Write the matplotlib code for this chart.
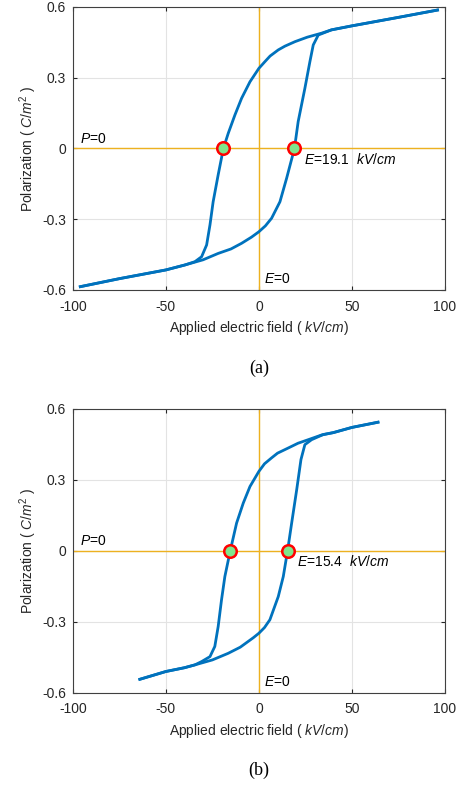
import numpy as np
import matplotlib
matplotlib.use("Agg")
import matplotlib.pyplot as plt

plt.rcParams['font.family'] = ['Liberation Sans', 'DejaVu Sans']
plt.rcParams['mathtext.fontset'] = 'custom'
plt.rcParams['mathtext.rm'] = 'Liberation Sans'
plt.rcParams['mathtext.it'] = 'Liberation Sans:italic'
plt.rcParams['axes.unicode_minus'] = False

# (a) descending-field branch (upper) and ascending-field branch (lower)
a_up_E = [96, 75, 50, 39, 33.7, 26, 19.4, 14, 10.4, 6, 3.2, 0, -4.8, -9.3, -12.9, -16.5, -19.1,
          -21.9, -24.6, -26.3, -28.1, -30.8, -34.4, -39.8, -50, -75, -96]
a_up_P = [0.587, 0.556, 0.52, 0.503, 0.489, 0.472, 0.453, 0.434, 0.418, 0.392, 0.368, 0.34, 0.283, 0.213, 0.142, 0.064, 0.0,
          -0.112, -0.226, -0.324, -0.409, -0.459, -0.48, -0.494, -0.515, -0.552, -0.586]
a_lo_E = [-96, -75, -50, -39.8, -30, -21.9, -15, -9.3, -4, 0, 3.5, 6.8, 11.3, 14.9, 19.1, 21.1, 24.7, 27.4,
          29.2, 31.9, 39, 50, 75, 96]
a_lo_P = [-0.586, -0.552, -0.515, -0.494, -0.472, -0.445, -0.426, -0.402, -0.376, -0.353, -0.328, -0.296, -0.226, -0.126, 0.0, 0.114, 0.255, 0.368,
          0.439, 0.481, 0.503, 0.52, 0.556, 0.587]
a_Ec = 19.1

# (b)
b_up_E = [64, 50, 40, 33.7, 26.5, 21, 15.8, 10, 6.8, 3, 0, -4.8, -8.4, -12, -15.4, -18.3, -20.1,
          -21.9, -23.7, -26.3, -30.8, -34.4, -40, -50, -64]
b_up_P = [0.544, 0.522, 0.50, 0.49, 0.47, 0.455, 0.435, 0.413, 0.393, 0.368, 0.336, 0.272, 0.202, 0.117, 0.0, -0.109, -0.208,
          -0.321, -0.405, -0.448, -0.469, -0.483, -0.495, -0.511, -0.544]
b_lo_E = [-64, -50, -40, -34.4, -25, -16.5, -10, -5.8, -3, 0, 3, 5.9, 10.4, 13.1, 15.4, 17.6, 20.3, 22.6,
          24.7, 28.3, 34.6, 40, 50, 64]
b_lo_P = [-0.544, -0.511, -0.495, -0.483, -0.462, -0.434, -0.408, -0.384, -0.368, -0.349, -0.325, -0.292, -0.194, -0.109, 0.0, 0.117, 0.258, 0.386,
          0.449, 0.47, 0.492, 0.50, 0.522, 0.544]
b_Ec = 15.4

xticks = [-100, -50, 0, 50, 100]
yticks = [-0.6, -0.3, 0, 0.3, 0.6]
yticklabels = ['-0.6', '-0.3', '0', '0.3', '0.6']

blue = '#0072BD'
orange = '#EDB120'

fig = plt.figure(figsize=(4.64, 7.85), dpi=100)


def panel(rect, upE, upP, loE, loP, Ec, caption, cap_y):
    ax = fig.add_axes(rect)
    ax.set_xlim(-100, 100)
    ax.set_ylim(-0.6, 0.6)
    ax.set_xticks(xticks)
    ax.set_yticks(yticks)
    ax.set_yticklabels(yticklabels)
    ax.grid(True, color='#e3e3e3', linewidth=0.8)
    ax.set_axisbelow(True)
    ax.tick_params(direction='in', length=3, width=0.8, top=True, right=True,
                   labelsize=10, colors='#262626')
    ax.tick_params(axis='x', pad=7)
    ax.tick_params(axis='y', pad=5)
    for s in ax.spines.values():
        s.set_color('#404040')
        s.set_linewidth(0.8)
    ax.axhline(0, color=orange, linewidth=1.0, zorder=1.5)
    ax.axvline(0, color=orange, linewidth=1.0, zorder=1.5)
    ax.plot(upE, upP, color=blue, linewidth=2, zorder=3, solid_joinstyle='round')
    ax.plot(loE, loP, color=blue, linewidth=2, zorder=3, solid_joinstyle='round')
    ax.plot([-Ec, Ec], [0, 0], 'o', markersize=9, markerfacecolor='#80E68C',
            markeredgecolor='#FF0000', markeredgewidth=1.8, zorder=4)
    ax.text(-96, 0.012, r'$P$=0', fontsize=10, va='bottom', ha='left')
    ax.text(3, -0.555, r'$E$=0', fontsize=10, va='center', ha='left')
    ax.text(Ec + 5, -0.045, r'$E$=%.1f  $kV/cm$' % Ec, fontsize=10, va='center', ha='left')
    ax.set_xlabel(r'Applied electric field ( $kV/cm$)', fontsize=10, color='#262626', labelpad=4)
    ax.set_ylabel(r'Polarization ( $C/m^{2}$ )', fontsize=10, color='#262626', labelpad=2)
    fig.text(0.558, cap_y, caption, ha='center', va='center',
             fontsize=13, family='Liberation Serif')
    return ax


panel([0.157, 0.6306, 0.802, 0.3605], a_up_E, a_up_P, a_lo_E, a_lo_P, a_Ec, '(a)', 1 - 368 / 785)
panel([0.157, 0.1178, 0.802, 0.3612], b_up_E, b_up_P, b_lo_E, b_lo_P, b_Ec, '(b)', 1 - 770 / 785)

fig.savefig('out.png', dpi=100)
